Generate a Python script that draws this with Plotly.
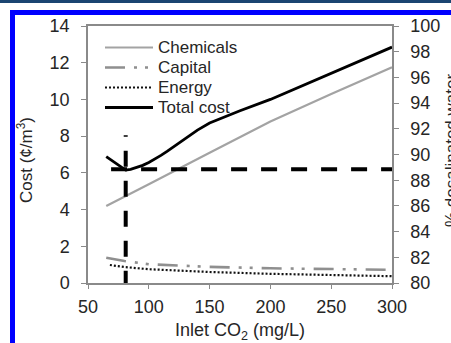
import plotly.graph_objects as go

# ---- data ----
x_chem = [65, 80, 100, 150, 200, 250, 300]
chemicals = [4.2, 4.7, 5.38, 7.1, 8.8, 10.3, 11.75]

x_cap = [65, 80, 100, 150, 200, 250, 300]
capital = [1.38, 1.2, 1.02, 0.88, 0.8, 0.75, 0.72]

x_en = [68, 80, 100, 150, 200, 250, 300]
energy = [0.98, 0.87, 0.75, 0.6, 0.5, 0.43, 0.37]

x_tot = [65, 70, 75, 81, 85, 90, 95, 100, 105, 110, 115, 120, 130, 140, 150, 160, 175, 200, 250, 300]
total_cost = [6.88, 6.65, 6.38, 6.15, 6.19, 6.28, 6.41, 6.57, 6.75, 6.95, 7.17, 7.4, 7.87, 8.33, 8.72,
              9.0, 9.38, 10.0, 11.42, 12.85]

x_desal = [81, 81, None, 69, 300]
pct_desal = [79.7, 91.5, None, 88.85, 88.85]

x_ticks = [50, 100, 150, 200, 250, 300]
y_ticks = [0, 2, 4, 6, 8, 10, 12, 14]
y2_ticks = [80, 82, 84, 86, 88, 90, 92, 94, 96, 98, 100]

legend_names = ["Chemicals", "Capital", "Energy", "Total cost"]

FONT = "Liberation Sans, Arial, sans-serif"
TXT = "#262626"
AX = "#8a8a8a"

styles = [
    dict(color="#a3a3a3", width=2.2),
    dict(color="#8f8f8f", width=2.6, dash="20px,9px,3px,8px,3px,9px"),
    dict(color="#111111", width=2.2, dash="2px,2px"),
    dict(color="#000000", width=2.8),
]

fig = go.Figure()
series = [(x_chem, chemicals), (x_cap, capital), (x_en, energy), (x_tot, total_cost)]
for (xs, ys), name, st in zip(series, legend_names, styles):
    fig.add_trace(go.Scatter(x=xs, y=ys, name=name, mode="lines", line=st, showlegend=False))
fig.add_trace(go.Scatter(x=x_desal, y=pct_desal, name="% desalinated water", mode="lines",
                         yaxis="y2", showlegend=False, connectgaps=False,
                         line=dict(color="#000000", width=4, dash="16px,14px")))

W, H = 451, 343
L, R, T, B = 88, 59, 26, 60
pw, ph = W - L - R, H - T - B

def px(x):
    return (x - L) / pw

def py(y):
    return (H - B - y) / ph

# legend (drawn manually for exact spacing)
leg_shapes, leg_ann = [], []
for i, (name, st) in enumerate(zip(legend_names, styles)):
    yy = 47.5 + i * 20
    leg_shapes.append(dict(type="line", xref="paper", yref="paper",
                           x0=px(105), x1=px(153), y0=py(yy), y1=py(yy),
                           line=st, layer="above"))
    leg_ann.append(dict(text=name, xref="paper", yref="paper", x=px(156), y=py(yy),
                        xanchor="left", yanchor="middle", showarrow=False,
                        font=dict(size=17, color=TXT)))

fig.update_layout(
    width=W, height=H,
    margin=dict(l=L, r=R, t=T, b=B),
    paper_bgcolor="white", plot_bgcolor="white",
    font=dict(family=FONT, size=18, color=TXT),
    showlegend=False,
    xaxis=dict(range=[50, 300], tickvals=x_ticks, showgrid=False, zeroline=False,
               showline=True, linecolor=AX, linewidth=1.5, mirror=True,
               ticks="outside", ticklen=4, tickcolor=AX, ticklabelstandoff=3,
               tickfont=dict(size=18)),
    yaxis=dict(range=[0, 14], tickvals=y_ticks, showgrid=False, zeroline=False,
               showline=True, linecolor=AX, linewidth=1.5,
               ticks="outside", ticklen=5, tickcolor=AX, ticklabelstandoff=8,
               tickfont=dict(size=18)),
    yaxis2=dict(range=[80, 100], tickvals=y2_ticks, overlaying="y", side="right",
                showgrid=False, zeroline=False, showline=True, linecolor=AX, linewidth=1.5,
                ticks="outside", ticklen=5, tickcolor=AX, ticklabelstandoff=8,
                tickfont=dict(size=18)),
    annotations=leg_ann + [
        dict(text="Inlet CO<sub>2</sub> (mg/L)", xref="paper", yref="paper",
             x=px(240), y=py(331), xanchor="center", yanchor="middle", showarrow=False,
             font=dict(size=18, color=TXT)),
        dict(text="Cost (¢/m<sup>3</sup>)", xref="paper", yref="paper",
             x=px(25), y=py(160), xanchor="center", yanchor="middle", textangle=-90,
             showarrow=False, font=dict(size=17, color=TXT)),
        dict(text="% desalinated water", xref="paper", yref="paper",
             x=px(451), y=py(151), xanchor="center", yanchor="middle", textangle=-90,
             showarrow=False, font=dict(size=17, color=TXT)),
    ],
    shapes=leg_shapes + [
        dict(type="rect", xref="paper", yref="paper", x0=px(0), x1=px(W), y0=py(0), y1=py(3),
             fillcolor="#1b4571", line=dict(width=0), layer="above"),
        dict(type="rect", xref="paper", yref="paper", x0=px(10), x1=px(W), y0=py(10), y1=py(15),
             fillcolor="#0000ff", line=dict(width=0), layer="above"),
        dict(type="rect", xref="paper", yref="paper", x0=px(10), x1=px(15), y0=py(10), y1=py(H),
             fillcolor="#0000ff", line=dict(width=0), layer="above"),
    ],
)

fig.write_html("out.html")
